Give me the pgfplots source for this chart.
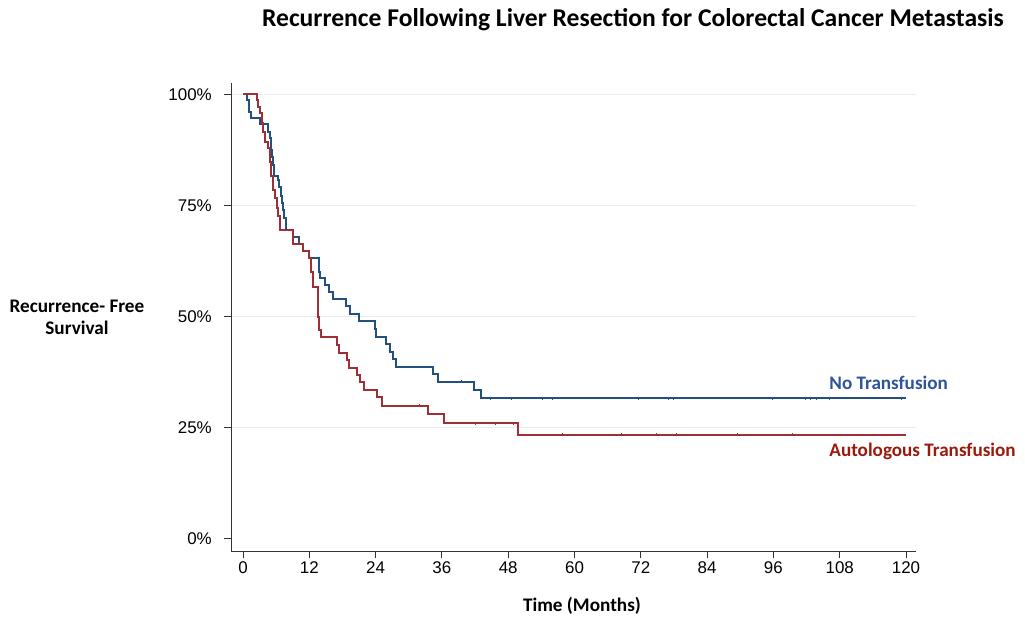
\documentclass[border=0pt]{standalone}
\usepackage{fontspec}
\setmainfont{Carlito}
\newfontfamily\arialf{Liberation Sans}
\usepackage{pgfplots}
\pgfplotsset{compat=1.18}
\definecolor{notrans}{HTML}{22507F}
\definecolor{autotrans}{HTML}{9E2F36}
\definecolor{notranstxt}{HTML}{2F5597}
\definecolor{autotranstxt}{HTML}{9A1A0E}
\definecolor{gridc}{HTML}{E8EDF0}
\definecolor{axc}{HTML}{333333}

\begin{document}
\begin{tikzpicture}
\path[use as bounding box] (-231.3bp,-67.7bp) rectangle (793.7bp,551.3bp);
\begin{axis}[
  at={(0,0)}, anchor=south west,
  x=5.525bp, y=444.8bp,
  xmin=-2.12, xmax=121.8, ymin=-0.0277, ymax=1.025,
  axis lines*=left,
  axis line style={draw=axc, line width=1.1bp},
  tick align=outside, major tick length=7bp,
  tick style={draw=axc, line width=1bp},
  xtick={0,12,...,120},
  ytick={0.25,0.5,0.75,1},
  yticklabels={25\%,50\%,75\%,100\%},
  extra y ticks={0}, extra y tick labels={0\%},
  extra y tick style={grid=none},
  ymajorgrids, grid style={draw=gridc, line width=1.2bp},
  /pgf/number format/assume math mode=true,
  tick label style={font=\arialf\fontsize{17}{19}\selectfont, text=black},
  yticklabel style={xshift=-9bp},
  clip=false,
]
% No Transfusion (time in months, survival after the step)
\addplot[const plot, draw=notrans, line width=2bp] coordinates {
  (0,1) (0.8,0.987) (1.0,0.959) (1.45,0.946) (3.0,0.932) (4.6,0.916)
  (4.8,0.901) (5.0,0.874) (5.2,0.858) (5.4,0.841) (5.6,0.815) (6.4,0.808)
  (6.6,0.792) (6.8,0.772) (7.0,0.755) (7.2,0.740) (7.5,0.721) (7.8,0.695)
  (9.1,0.680) (10.1,0.663) (10.9,0.648) (12.0,0.632) (13.8,0.601) (13.9,0.586)
  (14.8,0.571) (15.6,0.556) (16.2,0.540) (18.6,0.524) (19.4,0.506) (21.0,0.490)
  (23.9,0.471) (24.0,0.455) (25.8,0.438) (26.6,0.421) (27.2,0.405) (27.6,0.387)
  (34.3,0.371) (35.3,0.354) (41.8,0.335) (43.1,0.316) (120,0.316)
};
% Autologous Transfusion
\addplot[const plot, draw=autotrans, line width=2bp] coordinates {
  (0,1) (2.6,0.987) (2.8,0.972) (3.1,0.957) (3.4,0.935) (3.7,0.916)
  (4.0,0.893) (4.5,0.878) (4.8,0.848) (5.1,0.815) (5.4,0.785) (5.8,0.766)
  (6.1,0.743) (6.4,0.725) (6.7,0.695) (9.0,0.663) (10.8,0.648) (12.0,0.632)
  (12.3,0.601) (12.6,0.566) (13.5,0.500) (13.8,0.470) (14.1,0.453) (17.1,0.436)
  (17.3,0.419) (18.8,0.402) (19.1,0.385) (20.7,0.369) (21.2,0.352) (21.9,0.335)
  (24.3,0.319) (25.2,0.300) (33.4,0.280) (36.4,0.260) (49.7,0.234) (120,0.234)
};
% censored observations
\addplot[only marks, mark=|, mark size=1.6bp, mark options={draw=notrans, line width=0.7bp}] coordinates {
  (39.5,0.354) (44.8,0.316) (48.5,0.316) (54.2,0.316) (56.0,0.316) (71.6,0.316)
  (77.0,0.316) (77.8,0.316) (95.8,0.316) (101.7,0.316) (102.6,0.316)
  (103.7,0.316) (106.1,0.316) (119.2,0.316)
};
\addplot[only marks, mark=|, mark size=1.6bp, mark options={draw=autotrans, line width=0.7bp}] coordinates {
  (32.0,0.300) (42.0,0.260) (45.7,0.260) (48.9,0.260) (57.8,0.234) (68.5,0.234)
  (74.8,0.234) (78.5,0.234) (89.5,0.234) (99.5,0.234)
};
\node[anchor=west, inner sep=0, text=notranstxt, font=\bfseries\fontsize{19.2}{22}\selectfont]
  at (axis cs:106.1,0.351) {No Transfusion};
\node[anchor=west, inner sep=0, text=autotranstxt, font=\bfseries\fontsize{19.2}{22}\selectfont]
  at (axis cs:106.1,0.196) {Autologous Transfusion};
\end{axis}
\node[font=\bfseries\fontsize{25.7}{30}\selectfont] at (401.7bp,531.3bp)
  {Recurrence Following Liver Resection for Colorectal Cancer Metastasis};
\node[font=\bfseries\fontsize{19.3}{22}\selectfont, align=center] at (-154.3bp,234.3bp)
  {Recurrence- Free\\Survival};
\node[font=\bfseries\fontsize{19.3}{22}\selectfont] at (350.7bp,-54.7bp) {Time (Months)};
\end{tikzpicture}
\end{document}
